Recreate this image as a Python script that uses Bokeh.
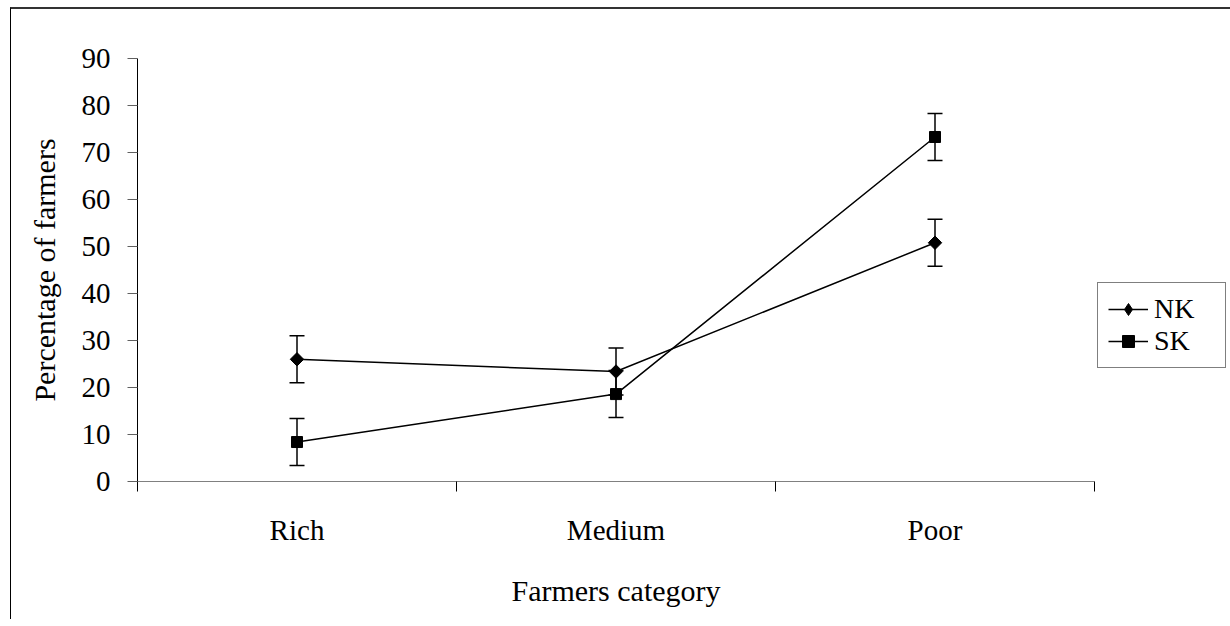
import math
from bokeh.plotting import figure
from bokeh.models import (ColumnDataSource, Whisker, TeeHead, FixedTicker,
                          CustomJSTickFormatter, Legend, LegendItem, Range1d)
from bokeh.embed import file_html
from bokeh.resources import INLINE

# ---- data ----
categories = ["Rich", "Medium", "Poor"]
nk_values = [26.0, 23.4, 50.8]
sk_values = [8.4, 18.6, 73.3]
nk_err = [5.0, 5.0, 5.0]
sk_err = [5.0, 5.0, 5.0]
y_ticks = [0, 10, 20, 30, 40, 50, 60, 70, 80, 90]
series_names = ["NK", "SK"]

FONT = "Liberation Serif"

x_pos = [i + 0.5 for i in range(len(categories))]
boundaries = list(range(len(categories) + 1))

p = figure(frame_width=957, frame_height=423,
           x_range=Range1d(0, len(categories)), y_range=Range1d(0, 90),
           output_backend="svg", toolbar_location=None,
           min_border_left=126, min_border_right=131,
           min_border_top=49, min_border_bottom=138)
p.xgrid.visible = False
p.ygrid.visible = False
p.outline_line_color = None
p.background_fill_color = "white"
p.border_fill_color = "white"

# x axis
xa = p.xaxis[0]
xa.ticker = FixedTicker(ticks=x_pos, minor_ticks=boundaries)
xa.formatter = CustomJSTickFormatter(args=dict(cats=categories), code="""
    const i = Math.floor(tick);
    return (i >= 0 && i < cats.length) ? cats[i] : '';
""")
xa.major_tick_out = 0
xa.major_tick_in = 0
xa.minor_tick_out = 10
xa.minor_tick_in = 0
xa.minor_tick_line_color = "black"
xa.minor_tick_line_width = 1
xa.axis_line_color = "#808080"
xa.axis_line_width = 1
xa.major_label_text_font = FONT
xa.major_label_text_font_size = "29px"
xa.major_label_text_color = "black"
xa.major_label_standoff = 22
xa.axis_label = "Farmers category"
xa.axis_label_text_font = FONT
xa.axis_label_text_font_size = "30px"
xa.axis_label_text_font_style = "normal"
xa.axis_label_text_color = "black"
xa.axis_label_standoff = 25

# y axis
ya = p.yaxis[0]
ya.ticker = FixedTicker(ticks=y_ticks, minor_ticks=[])
ya.major_tick_out = 10
ya.major_tick_in = 0
ya.minor_tick_out = 0
ya.minor_tick_in = 0
ya.major_tick_line_color = "#606060"
ya.axis_line_color = "black"
ya.major_label_text_font = FONT
ya.major_label_text_font_size = "29px"
ya.major_label_text_color = "black"
ya.major_label_standoff = 17
ya.axis_label = "Percentage of farmers"
ya.axis_label_text_font = FONT
ya.axis_label_text_font_size = "30px"
ya.axis_label_text_font_style = "normal"
ya.axis_label_text_color = "black"
ya.axis_label_standoff = 18

# error bars
for vals, errs in ((nk_values, nk_err), (sk_values, sk_err)):
    src = ColumnDataSource(dict(
        x=x_pos,
        upper=[v + e for v, e in zip(vals, errs)],
        lower=[v - e for v, e in zip(vals, errs)]))
    w = Whisker(source=src, base="x", upper="upper", lower="lower",
                dimension="height", line_color="black", line_width=1.5,
                upper_head=TeeHead(size=15, line_width=1.5, line_color="black"),
                lower_head=TeeHead(size=15, line_width=1.5, line_color="black"))
    p.add_layout(w)

# series
nk_line = p.line(x_pos, nk_values, line_color="black", line_width=1.5)
# symmetric diamond in the plot: a square turned by 45 degrees
p.scatter(x_pos, nk_values, marker="square", angle=math.pi / 4, size=9.5,
          fill_color="black", line_color="black")
# diamond glyph used for the legend swatch only
nk_key = p.scatter(x_pos, nk_values, marker="diamond", size=15,
                   fill_color="black", line_color="black", visible=False)
sk_line = p.line(x_pos, sk_values, line_color="black", line_width=1.5)
sk_pts = p.scatter(x_pos, sk_values, marker="square", size=11,
                   fill_color="black", line_color="black")

legend = Legend(items=[
    LegendItem(label=series_names[0], renderers=[nk_line, nk_key]),
    LegendItem(label=series_names[1], renderers=[sk_line, sk_pts]),
], location=(3, 113))
legend.click_policy = "none"
legend.label_text_font = FONT
legend.label_text_font_size = "28px"
legend.label_text_color = "black"
legend.border_line_color = "black"
legend.border_line_width = 1
legend.background_fill_color = "white"
legend.background_fill_alpha = 1
legend.padding = 10
legend.spacing = 0
legend.margin = 0
legend.glyph_width = 40
legend.glyph_height = 30
legend.label_height = 30
legend.label_standoff = 6
legend.label_width = 61
p.add_layout(legend, "right")

p.styles = {"border-top": "2px solid #333333",
            "border-left": "1px solid #000000",
            "margin-top": "7px",
            "margin-left": "10px"}

open("out.html", "w").write(file_html(p, INLINE))
